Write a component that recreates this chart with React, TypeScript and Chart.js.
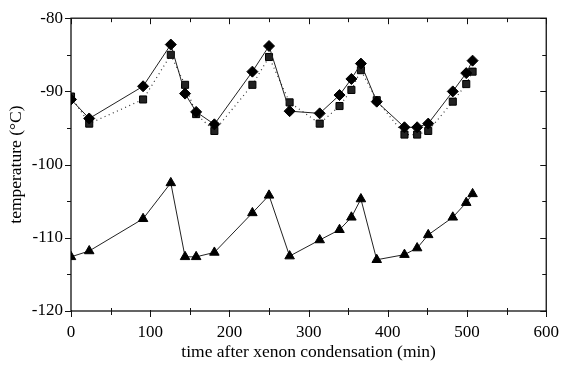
import React, { useEffect, useRef } from "react";
import { Chart, registerables } from "chart.js";

Chart.register(...registerables);

const times = [0, 23, 91, 126, 144, 158, 181, 229, 250, 276, 314, 339, 354, 366, 386, 421, 437, 451, 482, 499, 507];
const diamondTemps = [-91.1, -93.7, -89.3, -83.6, -90.3, -92.8, -94.5, -87.3, -83.8, -92.7, -93.0, -90.5, -88.3, -86.2, -91.4, -94.9, -94.9, -94.4, -90.0, -87.5, -85.8];
const squareTemps = [-90.7, -94.4, -91.1, -85.0, -89.1, -93.1, -95.4, -89.1, -85.3, -91.5, -94.4, -92.0, -89.8, -87.1, -91.2, -95.9, -95.9, -95.4, -91.4, -89.0, -87.3];
const triangleTemps = [-112.6, -111.8, -107.4, -102.5, -112.6, -112.6, -112.0, -106.6, -104.2, -112.5, -110.3, -108.9, -107.2, -104.7, -113.0, -112.3, -111.4, -109.6, -107.2, -105.2, -104.0];

const xMin = 0, xMax = 600, xMajor = 100, xMinor = 50;
const yMin = -120, yMax = -80, yMajor = 10, yMinor = 5;
const xTitle = "time after xenon condensation (min)";
const yTitle = "temperature (°C)";

const pts = (ys: number[]) => ys.map((y, i) => ({ x: times[i], y }));

const framePlugin = {
  id: "frameTicks",
  beforeDatasetsDraw(chart: any) {
    const { ctx, chartArea: a, scales } = chart;
    const xs = scales.x, ys = scales.y;
    ctx.save();
    ctx.strokeStyle = "#111";
    ctx.lineWidth = 1.3;
    ctx.strokeRect(a.left, a.top, a.right - a.left, a.bottom - a.top);
    ctx.lineWidth = 1;
    ctx.beginPath();
    for (let v = xMin; v <= xMax; v += xMinor) {
      const px = Math.round(xs.getPixelForValue(v)) + 0.5;
      const major = v % xMajor === 0;
      const L = major ? 6 : 4;
      ctx.moveTo(px, a.bottom - (major ? 1 : 3));
      ctx.lineTo(px, a.bottom + L);
      ctx.moveTo(px, a.top);
      ctx.lineTo(px, a.top + L);
    }
    for (let v = yMin; v <= yMax; v += yMinor) {
      const py = Math.round(ys.getPixelForValue(v)) + 0.5;
      const major = v % yMajor === 0;
      const L = major ? 6 : 4;
      ctx.moveTo(a.left - L, py);
      ctx.lineTo(a.left, py);
      ctx.moveTo(a.right, py);
      ctx.lineTo(a.right - L, py);
    }
    ctx.stroke();
    ctx.restore();
  },
};

export default function App() {
  const ref = useRef<HTMLCanvasElement>(null);
  useEffect(() => {
    document.body.style.margin = "0";
    const family = "'Liberation Serif', 'Times New Roman', serif";
    const font = { family, size: 17 };
    const titleFont = { family, size: 17.5 };
    const chart = new Chart(ref.current!, {
      type: "line",
      data: {
        datasets: [
          {
            label: "diamond",
            data: pts(diamondTemps),
            borderColor: "#222",
            borderWidth: 1,
            pointStyle: "rectRot",
            pointRadius: 5.5,
            pointBackgroundColor: "#000",
            pointBorderColor: "#000",
            pointBorderWidth: 1,
          },
          {
            label: "square",
            data: pts(squareTemps),
            borderColor: "#333",
            borderWidth: 1.2,
            borderDash: [1, 3.5],
            pointStyle: "rect",
            pointRadius: 5,
            pointBackgroundColor: "#222",
            pointBorderColor: "#000",
            pointBorderWidth: 1,
          },
          {
            label: "triangle",
            data: pts(triangleTemps),
            borderColor: "#222",
            borderWidth: 1,
            pointStyle: "triangle",
            pointRadius: 5.5,
            pointBackgroundColor: "#000",
            pointBorderColor: "#000",
            pointBorderWidth: 1,
          },
        ],
      },
      options: {
        animation: false,
        responsive: false,
        layout: { padding: { top: 18, right: 13, left: 0, bottom: 0 } },
        plugins: { legend: { display: false }, tooltip: { enabled: false } },
        scales: {
          x: {
            type: "linear",
            min: xMin,
            max: xMax,
            grid: { display: false, drawTicks: false },
            border: { display: false },
            ticks: { stepSize: xMajor, color: "#000", font, padding: 11, maxRotation: 0 },
            title: { display: true, text: xTitle, color: "#000", font: titleFont, padding: { top: 0, bottom: 3.5 } },
            afterFit: (s: any) => { s.height = 55; },
          },
          y: {
            type: "linear",
            min: yMin,
            max: yMax,
            grid: { display: false, drawTicks: false },
            border: { display: false },
            ticks: { stepSize: yMajor, color: "#000", font, padding: 8 },
            title: { display: true, text: yTitle, color: "#000", font: titleFont, padding: { top: 6, bottom: 0 } },
            afterFit: (s: any) => { s.width = 71; },
          },
        },
      },
      plugins: [framePlugin],
    });
    return () => chart.destroy();
  }, []);
  return (
    <div style={{ position: "absolute", left: 0, top: 0, width: 570, height: 366, background: "#fff" }}>
      <canvas ref={ref} width={570} height={366} style={{ width: 570, height: 366 }} />
    </div>
  );
}
